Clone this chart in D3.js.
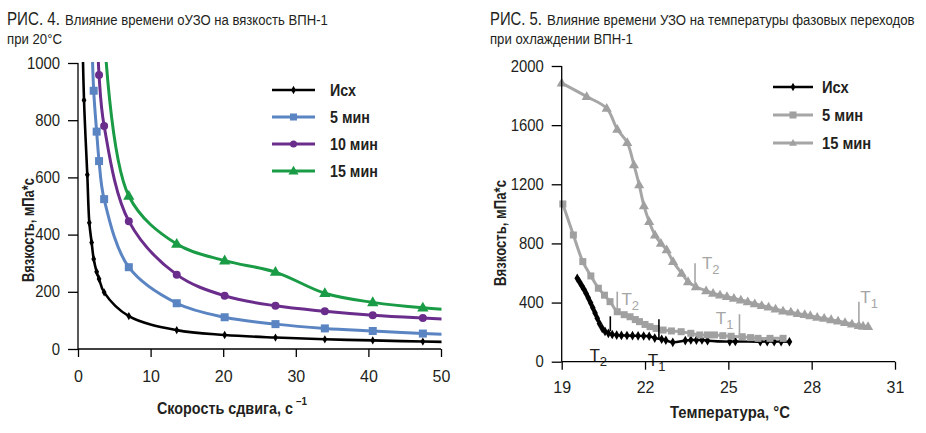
<!DOCTYPE html>
<html><head><meta charset="utf-8">
<script src="https://cdn.jsdelivr.net/npm/d3@7"></script>
<style>
html,body{margin:0;padding:0;background:#fff;}
svg text{font-family:"Liberation Sans Narrow","Arial Narrow","Liberation Sans",Arial,sans-serif;}
</style></head><body>
<svg id="c" width="926" height="433"></svg>
<script>
// ---------- Fig. 4 data ----------
const shearRates = [0.5, 0.83, 1.28, 1.56, 1.88, 2.16, 2.57, 2.9, 3.6, 7.0, 13.6, 20.2, 27.2, 34.0, 40.6, 47.5, 54.3];
const visIsh  = [1250, 870, 609, 441, 372, 315, 270, 245, 198, 115, 66, 49, 40, 34, 30, 26, 23];
const vis5    = [null, null, null, null, 1120, 903, 760, 657, 524, 286, 160, 111, 87, 72, 63, 54, 47];
const vis10   = [null, null, null, null, null, null, 1200, 958, 780, 447, 260, 186, 151, 132, 118, 108, 100];
const vis15   = [null, null, null, null, null, null, null, null, 1120, 535, 367, 309, 269, 195, 163, 144, 134];
const fig4Names = ["Исх", "5 мин", "10 мин", "15 мин"];
const fig4Colors = ["#000000", "#5a84c2", "#6b2d8c", "#1a9b45"];
const fig4Markers = ["diamond", "square", "circle", "triangle"];
const fig4XTicks = [0, 10, 20, 30, 40, 50];
const fig4YTicks = [0, 200, 400, 600, 800, 1000];

// ---------- Fig. 5 data ----------
const tIsh = [19.56,19.64,19.72,19.8,19.88,19.96,20.04,20.12,20.2,20.28,20.36,20.46,20.56,20.68,20.82,20.98,21.15,21.35,21.55,21.75,21.95,22.15,22.35,22.6,22.75,23.0,23.45,23.65,23.85,24.05,24.25,25.05,25.25,26.15,26.4,26.65,26.9,27.2];
const vIsh = [564,540,515,490,462,430,398,365,330,294,258,225,205,192,184,180,178,177,176,175,174,172,160,152,145,131,143,147,146,147,142,136,137,135,136,135,136,135];
const t5 = [19.04,19.42,19.76,20.05,20.32,20.54,20.74,21.0,21.25,21.46,21.65,21.8,22.0,22.18,22.4,22.65,22.95,23.3,23.65,23.97,24.25,24.5,24.8,25.1,25.5,25.8,26.07,26.5,26.97];
const v5 = [1067,857,677,580,497,450,406,338,318,304,285,271,252,237,225,214,208,203,192,181,181,181,176,172,169,163,158,158,158];
const t15 = [19.0,19.9,20.62,21.0,21.36,21.6,21.79,21.96,22.15,22.36,22.57,22.78,23.01,23.32,23.55,23.83,24.2,24.45,24.7,24.95,25.2,25.45,25.7,25.95,26.2,26.45,26.7,26.97,27.25,27.5,27.75,27.95,28.2,28.45,28.7,28.95,29.2,29.45,29.7,29.85,30.03];
const v15 = [1884,1793,1714,1572,1482,1331,1196,1055,947,857,800,756,677,598,541,507,480,462,451,440,428,417,405,392,380,370,356,343,335,325,318,311,300,293,284,275,265,255,245,240,237];
const fig5Names = ["Исх", "5 мин", "15 мин"];
const fig5Colors = ["#000000", "#a6a6a6", "#a6a6a6"];
const fig5Markers = ["diamond", "square", "triangle"];
const fig5XTicks = [19, 22, 25, 28, 31];
const fig5YTicks = [0, 400, 800, 1200, 1600, 2000];
// phase transition marks
const phaseT     = [20.75, 22.5, 21.0, 25.4, 23.8, 29.7];
const phaseV0    = [307, 287, 474, 321, 666, 406];
const phaseV1    = [206, 147, 338, 158, 507, 248];
const phaseLab   = ["2", "1", "2", "1", "2", "1"];
const phaseLabT  = [20.0, 22.1, 21.15, 24.55, 24.05, 29.75];
const phaseLabV  = [8, -28, 385, 255, 625, 400];
const phaseSer   = [0, 0, 1, 1, 2, 2];

const svg = d3.select("#c");
const font = '"Liberation Sans Narrow","Arial Narrow","Liberation Sans",Arial,sans-serif';
const ink = "#231f20";

// text placed at (x,y), condensed horizontally to a target width (w) or by a factor (f)
function ctext(parent, x, y, str, size, opts) {
  opts = opts || {};
  const t = parent.append("text").attr("x", 0).attr("y", 0).attr("font-size", size)
    .attr("fill", opts.fill || ink).text(str);
  if (opts.bold) t.attr("font-weight", "bold");
  if (opts.anchor) t.attr("text-anchor", opts.anchor);
  const L = t.node().getComputedTextLength();
  const f = opts.w ? opts.w / L : (opts.f || 1);
  t.attr("transform", `translate(${x},${y})${opts.rot ? ` rotate(${opts.rot})` : ""} scale(${f},1)`);
  return t;
}

function marker(g, type, x, y, color, size) {
  if (type === "diamond") {
    g.append("path").attr("d", d3.symbol(d3.symbolDiamond, size * size * 0.55)()).attr("transform", `translate(${x},${y})`).attr("fill", color);
  } else if (type === "square") {
    g.append("rect").attr("x", x - size / 2).attr("y", y - size / 2).attr("width", size).attr("height", size).attr("fill", color);
  } else if (type === "circle") {
    g.append("circle").attr("cx", x).attr("cy", y).attr("r", size / 2).attr("fill", color);
  } else {
    g.append("path").attr("d", d3.symbol(d3.symbolTriangle, size * size * 0.55)()).attr("transform", `translate(${x},${y + 0.5})`).attr("fill", color);
  }
}

function title(x, fig, figW, restX, rest, restW, line2, line2W) {
  ctext(svg, x, 25, fig, 18, { w: figW });
  ctext(svg, restX, 25, rest, 15, { w: restW });
  ctext(svg, x, 44, line2, 15, { w: line2W });
}

function styleAxes(ax, ay) {
  [ax, ay].forEach(a => {
    a.selectAll("path,line").attr("stroke", "#000").attr("stroke-width", 1.3);
    a.selectAll("text").attr("font-family", font).attr("font-size", 16).attr("fill", ink);
  });
  const f = 0.93;
  ay.selectAll("text").each(function () {
    const s = d3.select(this);
    s.attr("x", +s.attr("x") / f).attr("transform", `scale(${f},1)`);
  });
}

// ================= Fig. 4 =================
title(7, "РИС. 4.", 53, 65, "Влияние времени оУЗО на вязкость ВПН-1", 263, "при 20°С", 55);
{
  const x = d3.scaleLinear().domain([0, 50]).range([78, 441]);
  const y = d3.scaleLinear().domain([0, 1000]).range([349, 63]);
  svg.append("defs").append("clipPath").attr("id", "clip4").append("rect")
    .attr("x", 78).attr("y", 62).attr("width", 363.5).attr("height", 288);
  const g = svg.append("g").attr("clip-path", "url(#clip4)");
  const series = [visIsh, vis5, vis10, vis15];
  series.forEach((vals, i) => {
    const pts = shearRates.map((s, j) => [s, vals[j]]).filter(p => p[1] != null);
    const line = d3.line().x(d => x(d[0])).y(d => y(d[1])).curve(d3.curveCatmullRom.alpha(0.5));
    g.append("path").attr("d", line(pts)).attr("fill", "none").attr("stroke", fig4Colors[i]).attr("stroke-width", i === 0 ? 2.6 : 3);
    pts.forEach(p => marker(g, fig4Markers[i], x(p[0]), y(p[1]), fig4Colors[i], i === 0 ? 6 : (i === 3 ? 10 : 8)));
  });
  const ax = svg.append("g").attr("transform", "translate(0,349)")
    .call(d3.axisBottom(x).tickValues(fig4XTicks).tickFormat(d3.format("d")).tickSize(8).tickPadding(14));
  const ay = svg.append("g").attr("transform", "translate(78,0)")
    .call(d3.axisLeft(y).tickValues(fig4YTicks).tickFormat(d3.format("d")).tickSize(10).tickPadding(8));
  styleAxes(ax, ay);
  ax.select(".domain").attr("d", "M78,0H441");
  ay.select(".domain").attr("d", "M0,349V63");
  // axis titles
  ctext(svg, 157, 414, "Скорость сдвига,  с", 16, { bold: true, w: 136 });
  ctext(svg, 296, 405, "–1", 11, { bold: true, w: 11 });
  ctext(svg, 34, 230, "Вязкость, мПа*с", 16, { bold: true, anchor: "middle", rot: -90, w: 104 });
  // legend
  fig4Names.forEach((n, i) => {
    const ly = 90 + i * 27;
    svg.append("line").attr("x1", 272).attr("x2", 315).attr("y1", ly).attr("y2", ly)
      .attr("stroke", fig4Colors[i]).attr("stroke-width", i === 0 ? 2.6 : 3);
    marker(svg, fig4Markers[i], 293.5, ly, fig4Colors[i], i === 0 ? 6 : (i === 3 ? 9 : 7));
    ctext(svg, 330, ly + 6, n, 17, { bold: true, f: 0.84 });
  });
}

// ================= Fig. 5 =================
title(490, "РИС. 5.", 52, 547, "Влияние времени УЗО на температуры фазовых переходов", 368, "при охлаждении ВПН-1", 143);
{
  const x = d3.scaleLinear().domain([19, 31]).range([561.7, 895]);
  const y = d3.scaleLinear().domain([0, 2000]).range([361.7, 66]);
  const g = svg.append("g");
  const series = [[tIsh, vIsh], [t5, v5], [t15, v15]];
  series.forEach(([ts, vs], i) => {
    const pts = ts.map((t, j) => [t, vs[j]]);
    const line = d3.line().x(d => x(d[0])).y(d => y(d[1])).curve(d3.curveCatmullRom.alpha(0.5));
    g.append("path").attr("d", line(pts)).attr("fill", "none").attr("stroke", fig5Colors[i]).attr("stroke-width", i === 0 ? 2.4 : 3);
    pts.forEach(p => marker(g, fig5Markers[i], x(p[0]), y(p[1]), i === 0 ? "#000" : "#a0a0a0", i === 0 ? 7 : (i === 2 ? 9 : 7)));
  });
  // phase transition marks
  phaseT.forEach((t, k) => {
    const c = phaseSer[k] === 0 ? "#000" : "#a6a6a6";
    g.append("line").attr("x1", x(t)).attr("x2", x(t)).attr("y1", y(phaseV0[k])).attr("y2", y(phaseV1[k]))
      .attr("stroke", c).attr("stroke-width", 1.6);
    const tx = g.append("text").attr("x", x(phaseLabT[k])).attr("y", y(phaseLabV[k]))
      .attr("font-size", 17).attr("fill", phaseSer[k] === 0 ? ink : "#a6a6a6");
    tx.append("tspan").text("T");
    tx.append("tspan").attr("font-size", 13).attr("dy", 5).text(phaseLab[k]);
  });
  const ax = svg.append("g").attr("transform", "translate(0,361.7)")
    .call(d3.axisBottom(x).tickValues(fig5XTicks).tickFormat(d3.format("d")).tickSize(8).tickPadding(12));
  const ay = svg.append("g").attr("transform", "translate(561.7,0)")
    .call(d3.axisLeft(y).tickValues(fig5YTicks).tickFormat(d3.format("d")).tickSize(10).tickPadding(8));
  styleAxes(ax, ay);
  ax.select(".domain").attr("d", "M561.7,0H895");
  ay.select(".domain").attr("d", "M0,361.7V66");
  ctext(svg, 670, 418, "Температура,  °С", 16, { bold: true, w: 120 });
  ctext(svg, 506, 233, "Вязкость, мПа*с", 16, { bold: true, anchor: "middle", rot: -90, w: 106 });
  fig5Names.forEach((n, i) => {
    const ly = 87 + i * 28;
    svg.append("line").attr("x1", 773).attr("x2", 813).attr("y1", ly).attr("y2", ly)
      .attr("stroke", fig5Colors[i]).attr("stroke-width", i === 0 ? 2.6 : 3);
    marker(svg, fig5Markers[i], 793, ly, i === 0 ? "#000" : "#a0a0a0", i === 0 ? 6 : 7);
    ctext(svg, 822, ly + 6, n, 16, { bold: true, f: 0.92 });
  });
}
</script>
</body></html>
